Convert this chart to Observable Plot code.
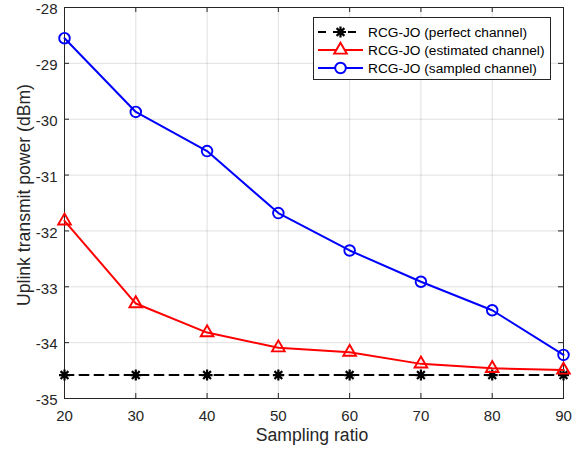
<!DOCTYPE html>
<html><head><meta charset="utf-8">
<script src="https://cdn.jsdelivr.net/npm/d3@7"></script>
<script src="https://cdn.jsdelivr.net/npm/@observablehq/plot@0.6"></script>
<style>
html,body{margin:0;padding:0;background:#fff;}
#wrap{position:relative;width:575px;height:453px;font-family:"Liberation Sans",Arial,Helvetica,sans-serif;}
#legend{position:absolute;left:313px;top:17px;}
</style>
</head><body>
<div id="wrap"></div>
<script>
const samplingRatio = [20, 30, 40, 50, 60, 70, 80, 90];
const perfectChannel = [-34.58, -34.58, -34.58, -34.58, -34.58, -34.58, -34.58, -34.58];
const estimatedChannel = [-31.82, -33.30, -33.82, -34.09, -34.17, -34.38, -34.46, -34.49];
const sampledChannel = [-28.55, -29.87, -30.57, -31.68, -32.35, -32.91, -33.42, -34.22];
const xTicks = [20, 30, 40, 50, 60, 70, 80, 90];
const yTicks = [-35, -34, -33, -32, -31, -30, -29, -28];
const seriesNames = ["RCG-JO (perfect channel)", "RCG-JO (estimated channel)", "RCG-JO (sampled channel)"];
const xLabel = "Sampling ratio";
const yLabel = "Uplink transmit power (dBm)";

const toRows = vals => samplingRatio.map((x, i) => ({x, y: vals[i]}));
const perfectRows = toRows(perfectChannel);
const estimatedRows = toRows(estimatedChannel);
const sampledRows = toRows(sampledChannel);

// MATLAB-like asterisk (+ and x)
const star = {
  draw(ctx, size) {
    const r = Math.sqrt(size / Math.PI);
    const d = r * Math.SQRT1_2;
    ctx.moveTo(0, -r); ctx.lineTo(0, r);
    ctx.moveTo(-r, 0); ctx.lineTo(r, 0);
    ctx.moveTo(-d, -d); ctx.lineTo(d, d);
    ctx.moveTo(-d, d); ctx.lineTo(d, -d);
  }
};

const W = 575, H = 453, mL = 64, mR = 12, mT = 7, mB = 55;
const pw = W - mL - mR, ph = H - mT - mB, tk = 5;
const axisColor = "#262626";
const font = '"Liberation Sans", Arial, Helvetica, sans-serif';

const chart = Plot.plot({
  width: W, height: H,
  marginLeft: mL, marginRight: mR, marginTop: mT, marginBottom: mB,
  x: {domain: [20, 90]},
  y: {domain: [-35, -28]},
  style: {fontFamily: font, fontSize: "15px", color: axisColor, background: "#fff", overflow: "visible"},
  marks: [
    Plot.gridX(xTicks, {stroke: axisColor, strokeOpacity: 0.14, strokeWidth: 1}),
    Plot.gridY(yTicks, {stroke: axisColor, strokeOpacity: 0.14, strokeWidth: 1}),
    Plot.tickX(xTicks, {x: d => d, stroke: axisColor, insetTop: ph - tk}),
    Plot.tickX(xTicks, {x: d => d, stroke: axisColor, insetBottom: ph - tk}),
    Plot.tickY(yTicks, {y: d => d, stroke: axisColor, insetRight: pw - tk}),
    Plot.tickY(yTicks, {y: d => d, stroke: axisColor, insetLeft: pw - tk}),
    Plot.axisX({ticks: xTicks, anchor: "bottom", tickSize: 0, tickPadding: 12, label: null, fontSize: 15, fill: axisColor, tickFormat: d => `${d}`}),
    Plot.axisY({ticks: yTicks, anchor: "left", tickSize: 0, tickPadding: 7, dy: 2, label: null, fontSize: 15, fill: axisColor, tickFormat: d => `${d}`}),
    Plot.frame({stroke: axisColor, strokeWidth: 1}),
    Plot.line(perfectRows, {x: "x", y: "y", stroke: "#000", strokeWidth: 2, strokeDasharray: "9,6"}),
    Plot.dot(perfectRows, {x: "x", y: "y", symbol: star, r: 5.5, stroke: "#000", strokeWidth: 2.2, fill: "none"}),
    Plot.line(estimatedRows, {x: "x", y: "y", stroke: "#ff0000", strokeWidth: 2}),
    Plot.dot(estimatedRows, {x: "x", y: "y", symbol: "triangle", r: 4.7, stroke: "#ff0000", strokeWidth: 1.9, fill: "none"}),
    Plot.line(sampledRows, {x: "x", y: "y", stroke: "#0000ff", strokeWidth: 2}),
    Plot.dot(sampledRows, {x: "x", y: "y", symbol: "circle", r: 5.3, stroke: "#0000ff", strokeWidth: 1.9, fill: "none"}),
    Plot.text([xLabel], {frameAnchor: "bottom", textAnchor: "middle", dx: -2, dy: 42, fontSize: 17.6, fill: axisColor}),
    Plot.text([yLabel], {frameAnchor: "left", textAnchor: "middle", rotate: -90, dx: -40, dy: -8, fontSize: 17.6, fill: axisColor})
  ]
});

const wrap = document.getElementById("wrap");
wrap.appendChild(chart);

// Legend (SVG overlay)
const lg = d3.select(wrap).append("svg").attr("id", "legend")
  .attr("width", 238).attr("height", 63);
lg.append("rect").attr("x", 0.5).attr("y", 0.5).attr("width", 237).attr("height", 62)
  .attr("fill", "#fff").attr("stroke", axisColor);
const rowsY = [15, 33, 51];
const colors = ["#000", "#ff0000", "#0000ff"];
seriesNames.forEach((name, i) => {
  const g = lg.append("g").attr("transform", `translate(0,${rowsY[i]})`);
  const line = g.append("line").attr("x1", 5).attr("x2", 50).attr("y1", 0).attr("y2", 0)
    .attr("stroke", colors[i]).attr("stroke-width", 2);
  if (i === 0) line.attr("stroke-dasharray", "8,7");
  const sym = i === 0 ? star : (i === 1 ? d3.symbolTriangle : d3.symbolCircle);
  const size = i === 0 ? Math.PI * 5.5 * 5.5 : (i === 1 ? Math.PI * 4.7 * 4.7 : Math.PI * 5.3 * 5.3);
  g.append("path").attr("transform", "translate(27.5,0)")
    .attr("d", d3.symbol(sym, size)())
    .attr("fill", i === 0 ? "none" : "#fff").attr("stroke", colors[i]).attr("stroke-width", i === 0 ? 2.2 : 1.9);
  g.append("text").attr("x", 55).attr("y", 0).attr("dy", "0.35em")
    .attr("font-size", 13.7).attr("fill", "#000")
    .attr("font-family", font)
    .text(name);
});
</script>
</body></html>
